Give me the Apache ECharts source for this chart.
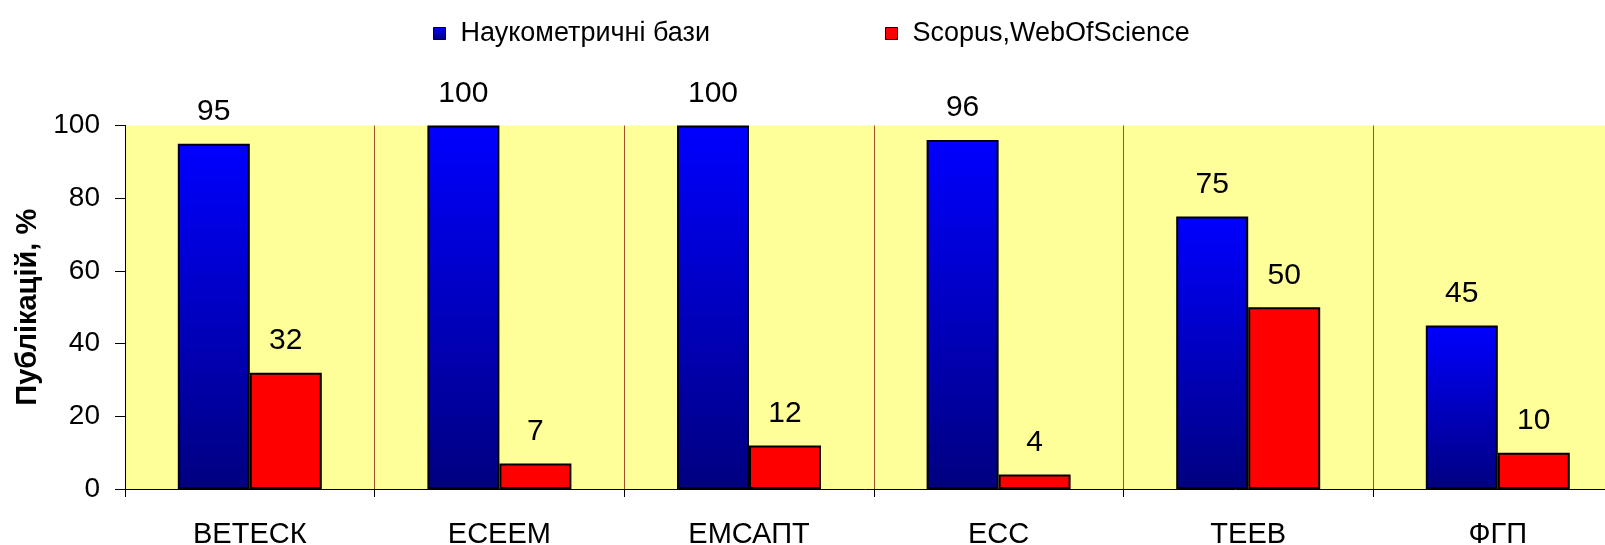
<!DOCTYPE html>
<html>
<head>
<meta charset="utf-8">
<script src="https://cdn.jsdelivr.net/npm/echarts@6/dist/echarts.min.js"></script>
<style>
  html, body { margin: 0; padding: 0; background: #fff; }
  #chart { width: 1605px; height: 545px; }
</style>
</head>
<body>
<div id="chart"></div>
<script>
const categories = ["ВЕТЕСК", "ЕСЕЕМ", "ЕМСАПТ", "ЕСС", "ТЕЕВ", "ФГП"];
const seriesNames = ["Наукометричні бази", "Scopus,WebOfScience"];
const baseValues = [95, 100, 100, 96, 75, 45];
const scopusValues = [32, 7, 12, 4, 50, 10];
const yTicks = { min: 0, max: 100, interval: 20 };

const font = "'Liberation Sans', Arial, sans-serif";

const chart = echarts.init(document.getElementById("chart"));
chart.setOption({
  animation: false,
  textStyle: { fontFamily: font, color: "#000" },
  legend: [
    {
      data: [seriesNames[0]],
      left: 428,
      top: 15,
      icon: "rect",
      itemWidth: 12,
      itemHeight: 12,
      itemStyle: { borderColor: "#000", borderWidth: 1 },
      textStyle: { fontSize: 27, color: "#000", fontFamily: font, padding: [0, 0, 0, 10] }
    },
    {
      data: [seriesNames[1]],
      left: 880,
      top: 15,
      icon: "rect",
      itemWidth: 12,
      itemHeight: 12,
      itemStyle: { borderColor: "#000", borderWidth: 1 },
      textStyle: { fontSize: 27, color: "#000", fontFamily: font, padding: [0, 0, 0, 10] }
    }
  ],
  grid: {
    left: 125,
    top: 125.5,
    width: 1497.6,
    height: 363.5,
    outerBoundsMode: "none",
    containLabel: false,
    show: true,
    backgroundColor: "#FFFF99",
    borderWidth: 0
  },
  xAxis: {
    type: "category",
    data: categories,
    axisLine: { lineStyle: { color: "#000", width: 1 } },
    axisTick: { show: true, length: 8, lineStyle: { color: "#000" } },
    axisLabel: { fontSize: 29, color: "#000", margin: 31, fontFamily: font },
    splitLine: { show: true, lineStyle: { color: "#A0522D", width: 1 } }
  },
  yAxis: {
    type: "value",
    min: yTicks.min,
    max: yTicks.max,
    interval: yTicks.interval,
    name: "Публікацій, %",
    nameLocation: "middle",
    nameGap: 82,
    nameTextStyle: { fontSize: 29, fontWeight: "bold", color: "#000", fontFamily: font },
    axisLine: { show: true, lineStyle: { color: "#000", width: 1 } },
    axisTick: { show: true, length: 10, lineStyle: { color: "#000" } },
    axisLabel: { fontSize: 28, color: "#000", margin: 25, fontFamily: font },
    splitLine: { show: false }
  },
  series: [
    {
      name: seriesNames[0],
      type: "bar",
      data: baseValues,
      barWidth: 72,
      barGap: "0%",
      itemStyle: {
        color: new echarts.graphic.LinearGradient(0, 0, 0, 1, [
          { offset: 0, color: "#0000FF" },
          { offset: 1, color: "#000080" }
        ]),
        borderColor: "#000",
        borderWidth: 2
      },
      label: { show: true, position: "top", distance: 17, fontSize: 30, color: "#000", fontFamily: font }
    },
    {
      name: seriesNames[1],
      type: "bar",
      data: scopusValues,
      barWidth: 72,
      barGap: "0%",
      itemStyle: { color: "#FF0000", borderColor: "#000", borderWidth: 2 },
      label: { show: true, position: "top", distance: 17, fontSize: 30, color: "#000", fontFamily: font }
    }
  ]
});
</script>
</body>
</html>
